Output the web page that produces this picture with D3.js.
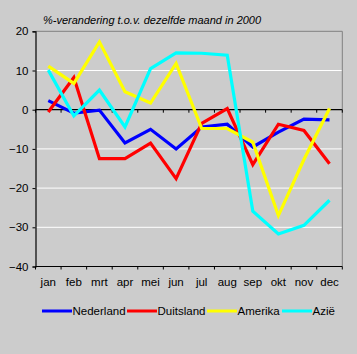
<!DOCTYPE html>
<html><head><meta charset="utf-8">
<script src="https://cdn.jsdelivr.net/npm/d3@7"></script>
<style>body{margin:0;background:#cccccc;}svg{display:block;}</style>
</head><body>
<script>
const months = ["jan","feb","mrt","apr","mei","jun","jul","aug","sep","okt","nov","dec"];
const nederland = [2.3,-0.9,-0.1,-8.5,-5,-10,-4.4,-3.7,-9.5,-5.7,-2.4,-2.6];
const duitsland = [-0.6,8.2,-12.5,-12.5,-8.5,-17.6,-3.5,0.3,-14,-3.7,-5.3,-13.8];
const amerika = [11.1,6.7,17.3,4.6,1.7,11.8,-4.8,-4.8,-8.3,-27,-12.7,0.3];
const azie = [10.1,-1.6,5,-4.4,10.5,14.5,14.4,13.9,-25.9,-31.7,-29.5,-23.1];
const seriesNames = ["Nederland","Duitsland","Amerika","Azië"];
const seriesColors = ["#0000ff","#ff0000","#ffff00","#00ffff"];
const yTicks = [20,10,0,-10,-20,-30,-40];
const title = "%-verandering t.o.v. dezelfde maand in 2000";

const W=357,H=354;
const svg=d3.select("body").append("svg").attr("width",W).attr("height",H)
  .style("font-family","Arial, 'Liberation Sans', sans-serif");
svg.append("rect").attr("width",W).attr("height",H).attr("fill","#cccccc");

const x0=35.5,x1=342.3,yT=31.3,yB=266.5;
const x=d3.scaleBand().domain(months).range([x0,x1]);
const y=d3.scaleLinear().domain([-40,20]).range([yB,yT]);

// gridlines
svg.append("g").selectAll("line").data([10,-10,-20,-30]).join("line")
  .attr("x1",x0).attr("x2",x1).attr("y1",d=>y(d)).attr("y2",d=>y(d))
  .attr("stroke","#ffffff").attr("stroke-width",1);
// border top/right
svg.append("path").attr("d",`M${x0},${yT}H${x1}V${yB}`).attr("fill","none").attr("stroke","#808080").attr("stroke-width",1);

// y axis
const ya=svg.append("g").attr("transform",`translate(${x0},0)`)
  .call(d3.axisLeft(y).tickValues(yTicks).tickSize(3).tickPadding(4));
ya.select(".domain").attr("stroke","#000").attr("stroke-width",1.2);
ya.selectAll("text").attr("font-size","11.5px").attr("fill","#000").attr("font-family","Arial, 'Liberation Sans', sans-serif");

// bottom axis ticks
const tickXs = months.map(m=>x(m)).concat([x1]);
svg.append("line").attr("x1",x0).attr("x2",x1).attr("y1",yB).attr("y2",yB).attr("stroke","#000").attr("stroke-width",1.2);
svg.append("g").selectAll("line").data(tickXs).join("line")
  .attr("x1",d=>d).attr("x2",d=>d).attr("y1",yB).attr("y2",yB+3).attr("stroke","#000");
svg.append("g").selectAll("text").data(months).join("text")
  .attr("x",d=>x(d)+x.bandwidth()/2).attr("y",286).attr("text-anchor","middle")
  .attr("font-size","11.5px").text(d=>d);

// zero line
svg.append("line").attr("x1",x0).attr("x2",x1).attr("y1",y(0)).attr("y2",y(0)).attr("stroke","#000").attr("stroke-width",1.2);
svg.append("g").selectAll("line").data(tickXs).join("line")
  .attr("x1",d=>d).attr("x2",d=>d).attr("y1",y(0)).attr("y2",y(0)+3).attr("stroke","#000");

// title
svg.append("text").attr("x",43).attr("y",24).attr("font-size","11px").attr("font-style","italic").text(title);

// lines
const allSeries=[nederland,duitsland,amerika,azie];
const line=d3.line().x((d,i)=>x(months[i])+x.bandwidth()/2).y(d=>y(d));
allSeries.forEach((s,k)=>{
  svg.append("path").attr("d",line(s)).attr("fill","none").attr("stroke",seriesColors[k])
    .attr("stroke-width",3.2).attr("stroke-linejoin","miter");
});

// legend
const legX=[42,127,207,282];
seriesNames.forEach((n,k)=>{
  svg.append("line").attr("x1",legX[k]).attr("x2",legX[k]+30).attr("y1",311).attr("y2",311)
    .attr("stroke",seriesColors[k]).attr("stroke-width",3);
  svg.append("text").attr("x",legX[k]+30.5).attr("y",315).attr("font-size","11.5px").text(n);
});
</script>
</body></html>
